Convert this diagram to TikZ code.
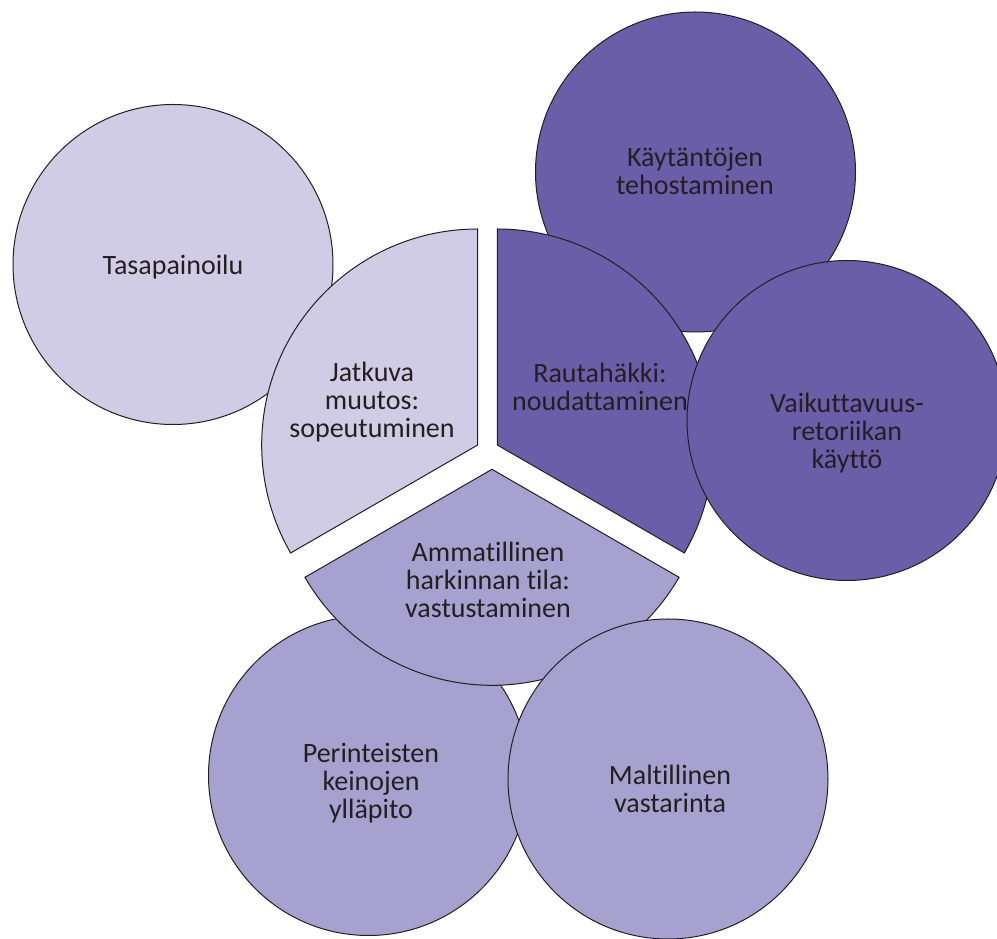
\documentclass[tikz,border=0pt]{standalone}
\usepackage{fontspec}
\setmainfont{Carlito}[Ligatures=NoCommon]
\usepackage{xcolor}
\definecolor{vaalea}{RGB}{208,204,230}
\definecolor{keski}{RGB}{166,161,207}
\definecolor{tumma}{RGB}{106,94,168}
\definecolor{viiva}{RGB}{35,31,32}

\begin{document}
\begin{tikzpicture}
	[   x=0.75pt, y=0.75pt,
	    cnode/.style={draw=viiva,line width=0.75pt,fill=#1,circle,inner sep=0pt,minimum size=240pt},
	    snode/.style={draw=viiva,line width=0.75pt,fill=#1},
	]
	\tikzset{tnode/.style={align=center,text=viiva,inner sep=0pt,font=\fontsize{21}{21}\selectfont}}
	\useasboundingbox (0,0) rectangle (997,939);
	
	% ympyrät sektorien alla
	\node[cnode=vaalea] (tasa) at (173,674.5) {};
	\node[cnode=tumma] (kayt) at (695.5,767) {};
	\node[cnode=keski] (peri) at (368.5,163.5) {};
	\node[tnode] (tasa-t) at (173,672) {Tasapainoilu};
	\node[tnode] (kayt-t) at (695,768) {Käytäntöjen\\tehostaminen};
	\node[tnode] (peri-t) at (371,156) {Perinteisten\\keinojen\\ylläpito};
	
	% kolme sektoria
	\foreach \vx/\vy/\a/\col in {477.7/494/90/vaalea, 497.3/494/-30/tumma, 492/469.7/210/keski}
	{
		\path[snode=\col] (\vx,\vy) -- ++(\a:216) arc[start angle=\a, delta angle=120, radius=216] -- cycle;
	}
	\node[tnode] (jatk) at (372,537) {Jatkuva\\muutos:\\sopeutuminen};
	\node[tnode] (raut) at (600,552.5) {Rautahäkki:\\noudattaminen};
	\node[tnode] (amma) at (488,359) {Ammatillinen\\harkinnan tila:\\vastustaminen};
	
	% ympyrät päällä
	\node[cnode=tumma] (vaik) at (847,518.5) {};
	\node[cnode=keski] (malt) at (668,160) {};
	\node[tnode] (vaik-t) at (847,506) {Vaikuttavuus-\\retoriikan\\käyttö};
	\node[tnode] (malt-t) at (670,150) {Maltillinen\\vastarinta};
\end{tikzpicture}
\end{document}
